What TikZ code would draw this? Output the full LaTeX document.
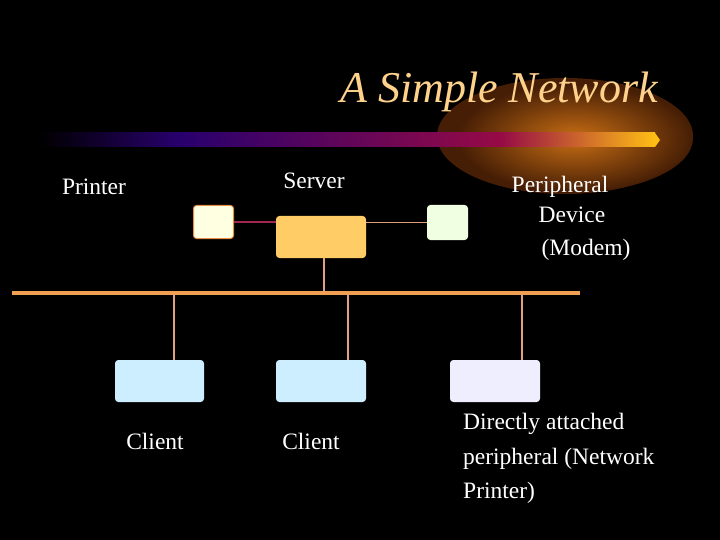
\documentclass[tikz,border=0pt]{standalone}
\usepackage{fontspec}
\setmainfont{Liberation Serif}
\definecolor{glow}{RGB}{200,110,20}
\definecolor{glowo}{RGB}{70,30,5}
\definecolor{navy}{RGB}{40,0,110}
\definecolor{crim}{RGB}{150,10,70}
\definecolor{gold}{RGB}{255,190,20}
\definecolor{titlec}{RGB}{255,210,140}
\definecolor{pborder}{RGB}{230,140,70}
\definecolor{pfill}{RGB}{255,255,225}
\definecolor{sfill}{RGB}{255,204,102}
\definecolor{mfill}{RGB}{240,255,225}
\definecolor{cfill}{RGB}{204,238,255}
\definecolor{c3fill}{RGB}{238,238,255}
\definecolor{busc}{RGB}{240,160,80}
\definecolor{linkc}{RGB}{224,160,128}
\definecolor{plink}{RGB}{160,40,80}
\begin{document}
\begin{tikzpicture}[x=1pt,y=-1pt,
  box/.style={draw=#1,rounded corners=3pt,line width=1pt,anchor=north west},
  lbl/.style={text=white,font=\fontsize{23.5}{26}\selectfont,inner sep=0pt},
  link/.style={line width=1.2pt}]
\fill[black] (0,0) rectangle (720,540);
\useasboundingbox (0,0) rectangle (720,540);
\fill[glowo] (565,136) ellipse (128 and 58);
\shade[inner color=glow,outer color=glowo] (575,138) ellipse (118 and 54);
\shade[left color=black,right color=navy] (40,133) rectangle (180,147);
\shade[left color=navy,right color=crim] (180,133) rectangle (500,147);
\shade[left color=crim,right color=gold] (500,133) rectangle (655,147);
\fill[gold] (655,133) -- (660,140) -- (655,147) -- cycle;
\node[text=titlec,font=\fontsize{44}{48}\selectfont\itshape] (title) at (499,92) {A Simple Network};
\node[box=pborder,fill=pfill,minimum width=40pt,minimum height=33pt] (printer) at (193,205) {};
\node[box=sfill,fill=sfill,minimum width=89pt,minimum height=41pt] (server) at (276,216) {};
\node[box=mfill,fill=mfill,minimum width=40pt,minimum height=34pt] (modem) at (427,205) {};
\node[box=cfill,fill=cfill,minimum width=88pt,minimum height=41pt] (c1) at (115,360) {};
\node[box=cfill,fill=cfill,minimum width=89pt,minimum height=41pt] (c2) at (276,360) {};
\node[box=c3fill,fill=c3fill,minimum width=89pt,minimum height=41pt] (c3) at (450,360) {};
\coordinate (busL) at (12,293);
\coordinate (busR) at (580,293);
\coordinate (s) at (324,292);
\coordinate (b1) at (174,294);
\coordinate (b2) at (348,294);
\coordinate (b3) at (522,294);
\draw[line width=4pt,busc] (busL) -- (busR);
\draw[link,plink] (printer.east) -- (printer.east -| server.west);
\draw[link,linkc] (modem.west) -- (modem.west -| server.east);
\draw[link,linkc] (server.south -| s) -- (s);
\draw[link,linkc] (c1.north -| b1) -- (b1);
\draw[link,linkc] (c2.north -| b2) -- (b2);
\draw[link,linkc] (c3.north -| b3) -- (b3);
\node[lbl] (tp) at (94,187) {Printer};
\node[lbl] (ts) at (314,181) {Server};
\node[lbl] (tm1) at (560,187) {Peripheral};
\node[lbl] (tm2) at (572,215) {Device};
\node[lbl] (tm3) at (586,250) {(Modem)};
\node[lbl] (tc1) at (155,441) {Client};
\node[lbl] (tc2) at (311,441) {Client};
\node[lbl,anchor=west] (td1) at (463,424) {Directly attached};
\node[lbl,anchor=west] (td2) at (463,459) {peripheral (Network};
\node[lbl,anchor=west] (td3) at (463,493) {Printer)};
\end{tikzpicture}
\end{document}
